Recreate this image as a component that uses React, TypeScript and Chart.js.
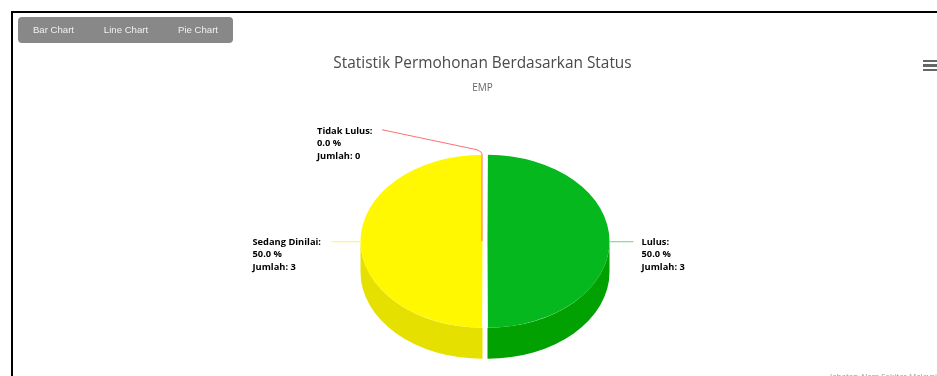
import React, { useEffect, useRef } from "react";
import { Chart, registerables } from "chart.js";

Chart.register(...registerables);

const categories = ["Lulus", "Sedang Dinilai", "Tidak Lulus"];
const counts = [3, 3, 0];
const percentLabels = ["50.0 %", "50.0 %", "0.0 %"];
const topColors = ["#05b81e", "#fff800", "#ff6b6b"];
const sideColors = ["#00a100", "#e6e000", "#e05050"];
const connectorColors = ["#5fdc70", "#fff35a", "#ff6f6f"];
const menuItems = ["Bar Chart", "Line Chart", "Pie Chart"];
const menuCenters = [53.5, 126, 198];
const titleText = "Statistik Permohonan Berdasarkan Status";
const subtitleText = "EMP";
const creditText = "Jabatan Alam Sekitar Malaysia";

const TILT = 0.709;
const DEPTH = 31;
const SHIFT_X = 2.5;
const LABEL_FONT = '"Open Sans", sans-serif';

const pie3d = {
  id: "pie3d",
  beforeDatasetDraw(chart: any, args: any) {
    const { ctx } = chart;
    const arcs = args.meta.data;
    ctx.save();
    arcs.forEach((el: any, i: number) => {
      if (counts[i] === 0) return;
      const mid = (el.startAngle + el.endAngle) / 2;
      const off = el.options.offset / 4;
      const norm0 = el.startAngle > Math.PI ? el.startAngle - 2 * Math.PI : el.startAngle;
      const start = Math.max(norm0, 0);
      const end = Math.min(norm0 + (el.endAngle - el.startAngle), Math.PI);
      if (end <= start) return;
      const cx = el.x + SHIFT_X + Math.cos(mid) * off;
      const cy = el.y + Math.sin(mid) * off * TILT;
      const r = el.outerRadius + off;
      ctx.fillStyle = sideColors[i];
      ctx.beginPath();
      ctx.ellipse(cx, cy + DEPTH, r, r * TILT, 0, start, end);
      ctx.ellipse(cx, cy, r, r * TILT, 0, end, start, true);
      ctx.closePath();
      ctx.fill();
    });
    ctx.restore();
    const c = arcs[0];
    ctx.save();
    ctx.translate(c.x + SHIFT_X, c.y);
    ctx.scale(1, TILT);
    ctx.translate(-c.x, -c.y);
  },
  afterDatasetDraw(chart: any) {
    chart.ctx.restore();
  },
  afterDraw(chart: any) {
    const { ctx } = chart;
    const arcs = chart.getDatasetMeta(0).data;
    const drawText = (i: number, x: number, y: number) => {
      ctx.fillStyle = "#000";
      ctx.textAlign = "left";
      ctx.textBaseline = "middle";
      ctx.font = `700 9.3px ${LABEL_FONT}`;
      ctx.fillText(`${categories[i]}:`, x, y);
      ctx.fillText(percentLabels[i], x, y + 12.5);
      ctx.fillText(`Jumlah: ${counts[i]}`, x, y + 25);
    };
    arcs.forEach((el: any, i: number) => {
      const cx = el.x + SHIFT_X;
      const off = el.options.offset / 4;
      const r = el.outerRadius + off;
      ctx.save();
      ctx.lineWidth = 1;
      ctx.strokeStyle = connectorColors[i];
      ctx.beginPath();
      if (i === 0) {
        ctx.moveTo(cx + r + off, el.y + 0.5);
        ctx.lineTo(cx + r + off + 24, el.y + 0.5);
        ctx.stroke();
        drawText(i, cx + r + off + 32, el.y + 1);
      } else if (i === 1) {
        ctx.moveTo(cx - r - off, el.y + 0.5);
        ctx.lineTo(cx - r - off - 29, el.y + 0.5);
        ctx.stroke();
        drawText(i, cx - r - off - 108, el.y + 1);
      } else {
        const top = el.y - r * TILT;
        const lx = cx - 3;
        ctx.moveTo(lx, el.y);
        ctx.lineTo(lx, top - 1);
        ctx.quadraticCurveTo(lx, top - 3, lx - 5, top - 5);
        ctx.lineTo(lx - 100, top - 25);
        ctx.stroke();
        drawText(i, lx - 165, top - 23.5);
      }
      ctx.restore();
    });
  },
};

export default function App() {
  const ref = useRef<HTMLCanvasElement>(null);
  useEffect(() => {
    const chart = new Chart(ref.current as HTMLCanvasElement, {
      type: "pie",
      data: {
        labels: categories,
        datasets: [
          {
            data: counts,
            backgroundColor: topColors,
            borderWidth: 0,
            offset: 10,
            radius: 119.5,
            clip: false,
          } as any,
        ],
      },
      options: {
        responsive: false,
        animation: false,
        layout: { padding: { left: 28, right: 0, top: 0, bottom: 0 } },
        plugins: {
          legend: { display: false },
          tooltip: { enabled: false },
          title: {
            display: true,
            text: titleText,
            color: "#4a4a4a",
            font: { family: LABEL_FONT, size: 15.4, weight: "normal" },
            padding: { top: 54, bottom: 10 },
          },
          subtitle: {
            display: true,
            text: subtitleText,
            color: "#666",
            font: { family: LABEL_FONT, size: 10, weight: "normal" },
            padding: { top: 0, bottom: 12 },
          },
        },
      },
      plugins: [pie3d],
    } as any);
    return () => chart.destroy();
  }, []);

  return (
    <div style={{ position: "absolute", left: 0, top: 0, width: 937, height: 376, overflow: "hidden", background: "#fff", filter: "blur(0.3px)" }}>
      <style>{"html,body{margin:0;padding:0;overflow:hidden;background:#fff}"}</style>
      <canvas ref={ref} width={937} height={376} style={{ position: "absolute", left: 0, top: 0, width: 937, height: 376 }} />
      <div style={{ position: "absolute", left: 11, top: 11, right: 0, height: 2, background: "#000" }} />
      <div style={{ position: "absolute", left: 11, top: 11, bottom: 0, width: 2, background: "#000" }} />
      <div style={{ position: "absolute", left: 18, top: 17, width: 215, height: 26, background: "#888", borderRadius: 4 }} />
      {menuItems.map((m, i) => (
        <span
          key={m}
          style={{
            position: "absolute",
            left: menuCenters[i] - 40,
            width: 80,
            top: 23,
            textAlign: "center",
            font: '9.6px/14px "Liberation Sans", Arial, sans-serif',
            color: "#f0f0f0",
          }}
        >
          {m}
        </span>
      ))}
      {[59.5, 64, 68.5].map((y) => (
        <div key={y} style={{ position: "absolute", left: 923, width: 14, top: y, height: 2.5, background: "#666" }} />
      ))}
      <div
        style={{
          position: "absolute",
          left: 830,
          top: 371,
          whiteSpace: "nowrap",
          font: '8px/10px "Open Sans", sans-serif',
          color: "#999",
        }}
      >
        {creditText}
      </div>
    </div>
  );
}
